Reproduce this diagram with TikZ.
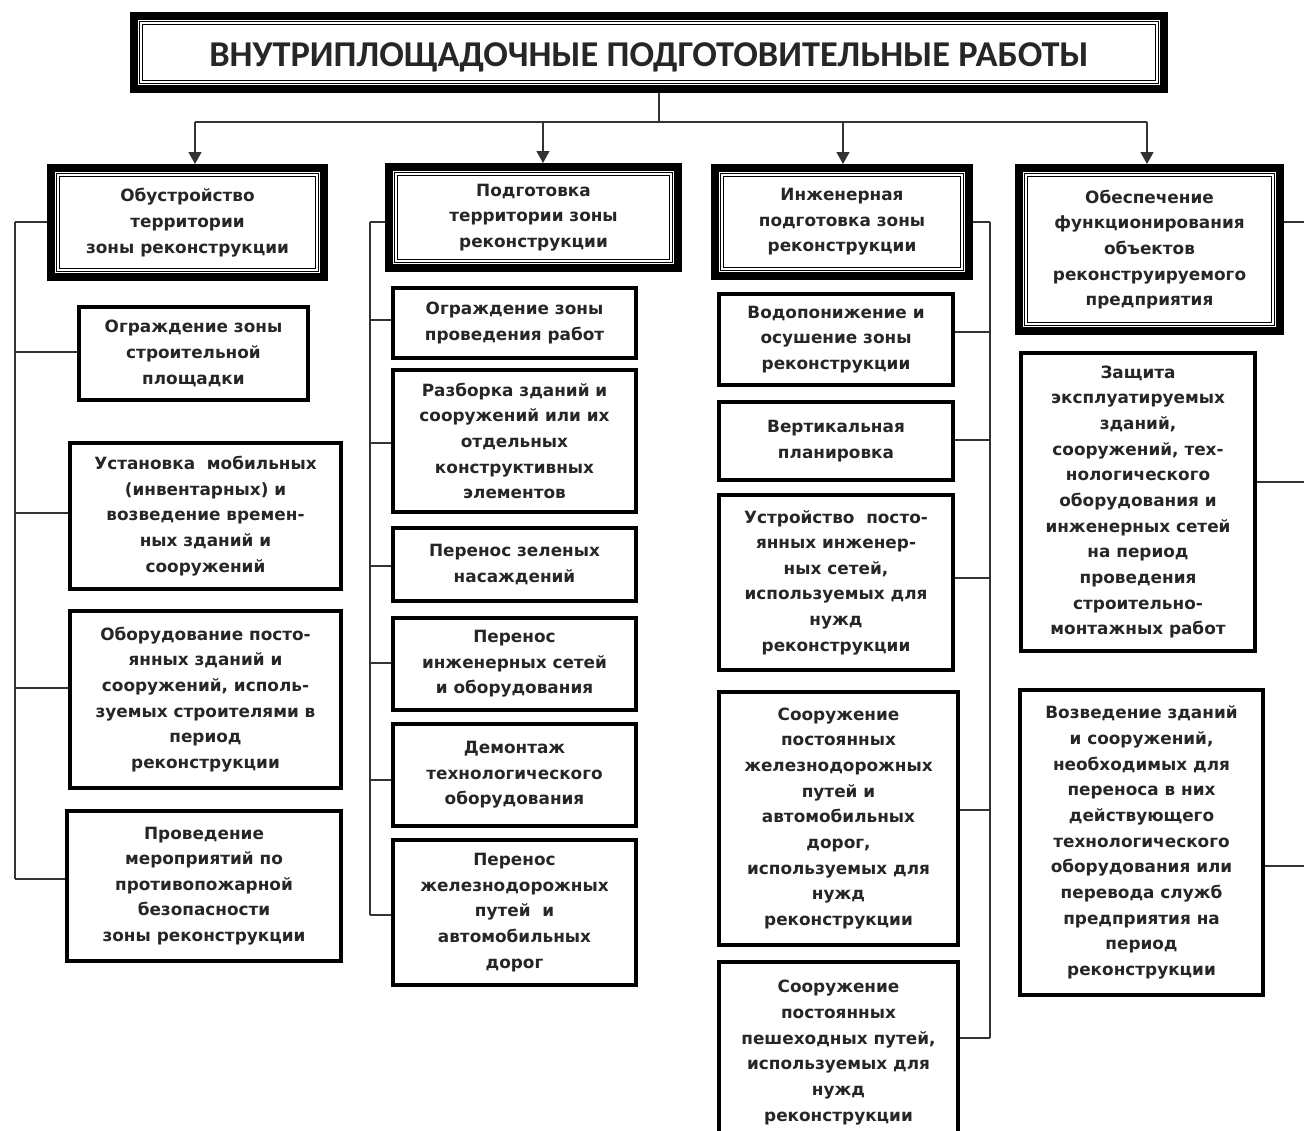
\documentclass[tikz,border=0pt]{standalone}
\usepackage{fontspec}
\setmainfont{DejaVu Sans}
\newfontfamily\titlefont{Carlito}
\usetikzlibrary{arrows.meta, positioning, calc}

\begin{document}
\begin{tikzpicture}[
    x=0.02cm, y=-0.02cm,
    txt/.style={align=center, inner sep=0pt, text=black!85, font=\fontsize{9.6}{14.6}\selectfont\bfseries},
    head/.style={txt, draw, line width=0.16cm},
    itembox/.style={txt, draw, line width=0.08cm},
    link/.style={draw=black!80, line width=0.8pt},
    arrowdown/.style={link, -{Triangle[length=0.24cm, width=0.26cm]}},
    innerframe/.style={line width=0.5pt, double, double distance=1.1pt}
]
    \useasboundingbox (0,0) rectangle (1304,1131);

    \node[head, minimum width=20.6cm, minimum height=1.46cm, text height=19pt, font=\titlefont\bfseries\fontsize{20.7}{25}\selectfont] (title) at (649,52.5) {ВНУТРИПЛОЩАДОЧНЫЕ ПОДГОТОВИТЕЛЬНЫЕ РАБОТЫ};

    % headers
    \node[head, minimum width=5.46cm, minimum height=2.18cm] (h1) at (187.5,222.5) {Обустройство\\территории\\зоны реконструкции};
    \node[head, minimum width=5.78cm, minimum height=2.02cm] (h2) at (533.5,217.5) {Подготовка\\территории зоны\\реконструкции};
    \node[head, minimum width=5.08cm, minimum height=2.16cm] (h3) at (842,222) {Инженерная\\подготовка зоны\\реконструкции};
    \node[head, minimum width=5.22cm, minimum height=3.26cm] (h4) at (1149.5,249.5) {Обеспечение\\функционирования\\объектов\\реконструируемого\\предприятия};

    \foreach \n in {title, h1, h2, h3, h4}
        \draw[innerframe] ($(\n.north west)+(11,11)$) rectangle ($(\n.south east)-(11,11)$);

    % column 1
    \node[itembox, minimum width=4.58cm, minimum height=1.86cm] (c11) at (193.5,353.5) {Ограждение зоны\\строительной\\площадки};
    \node[itembox, minimum width=5.42cm, minimum height=2.92cm] (c12) at (205.5,516) {Установка\ \ мобильных\\(инвентарных) и\\возведение времен-\\ных зданий и\\сооружений};
    \node[itembox, minimum width=5.42cm, minimum height=3.54cm] (c13) at (205.5,699.5) {Оборудование посто-\\янных зданий и\\сооружений, исполь-\\зуемых строителями в\\период\\реконструкции};
    \node[itembox, minimum width=5.48cm, minimum height=3.0cm] (c14) at (204,886) {Проведение\\мероприятий по\\противопожарной\\безопасности\\зоны реконструкции};

    % column 2
    \node[itembox, minimum width=4.86cm, minimum height=1.40cm] (c21) at (514.5,323) {Ограждение зоны\\проведения работ};
    \node[itembox, minimum width=4.86cm, minimum height=2.84cm] (c22) at (514.5,441) {Разборка зданий и\\сооружений или их\\отдельных\\конструктивных\\элементов};
    \node[itembox, minimum width=4.86cm, minimum height=1.46cm] (c23) at (514.5,564.5) {Перенос зеленых\\насаждений};
    \node[itembox, minimum width=4.86cm, minimum height=1.84cm] (c24) at (514.5,664) {Перенос\\инженерных сетей\\и оборудования};
    \node[itembox, minimum width=4.86cm, minimum height=2.04cm] (c25) at (514.5,775) {Демонтаж\\технологического\\оборудования};
    \node[itembox, minimum width=4.86cm, minimum height=2.90cm] (c26) at (514.5,912.5) {Перенос\\железнодорожных\\путей\ \ и\\автомобильных\\дорог};

    % column 3
    \node[itembox, minimum width=4.68cm, minimum height=1.82cm] (c31) at (836,339.5) {Водопонижение и\\осушение зоны\\реконструкции};
    \node[itembox, minimum width=4.68cm, minimum height=1.56cm] (c32) at (836,441) {Вертикальная\\планировка};
    \node[itembox, minimum width=4.68cm, minimum height=3.50cm] (c33) at (836,582.5) {Устройство\ \ посто-\\янных инженер-\\ных сетей,\\используемых для\\нужд\\реконструкции};
    \node[itembox, minimum width=4.78cm, minimum height=5.06cm] (c34) at (838.5,818.5) {Сооружение\\постоянных\\железнодорожных\\путей и\\автомобильных\\дорог,\\используемых для\\нужд\\реконструкции};
    \node[itembox, minimum width=4.78cm, minimum height=3.62cm] (c35) at (838.5,1052.5) {Сооружение\\постоянных\\пешеходных путей,\\используемых для\\нужд\\реконструкции};

    % column 4
    \node[itembox, minimum width=4.68cm, minimum height=5.96cm] (c41) at (1138,502) {Защита\\эксплуатируемых\\зданий,\\сооружений, тех-\\нологического\\оборудования и\\инженерных сетей\\на период\\проведения\\строительно-\\монтажных работ};
    \node[itembox, minimum width=4.86cm, minimum height=6.10cm] (c42) at (1141.5,842.5) {Возведение зданий\\и сооружений,\\необходимых для\\переноса в них\\действующего\\технологического\\оборудования или\\перевода служб\\предприятия на\\период\\реконструкции};

    % title to headers
    \coordinate (tj) at (659,122);
    \coordinate (a1) at (195,122);
    \coordinate (a2) at (543,122);
    \coordinate (a3) at (843,122);
    \coordinate (a4) at (1147,122);
    \draw[link] (title.south -| tj) -- (tj);
    \draw[link] (a1) -- (a4);
    \foreach \i in {1,...,4}
        \draw[arrowdown] (a\i) -- (a\i |- h\i.north);

    % buses
    \foreach \n/\y in {h1/222, c11/352, c12/513, c13/688, c14/879} {
        \coordinate (j-\n) at (15,\y);
        \draw[link] (j-\n) -- (j-\n -| \n.west);
    }
    \draw[link] (j-h1) -- (j-c14);

    \foreach \n/\y in {h2/222, c21/320, c22/443, c23/566, c24/663, c25/780, c26/915} {
        \coordinate (j-\n) at (370,\y);
        \draw[link] (j-\n) -- (j-\n -| \n.west);
    }
    \draw[link] (j-h2) -- (j-c26);

    \foreach \n/\y in {h3/222, c31/332, c32/440, c33/578, c34/810, c35/1038} {
        \coordinate (j-\n) at (990,\y);
        \draw[link] (j-\n -| \n.east) -- (j-\n);
    }
    \draw[link] (j-h3) -- (j-c35);

    \foreach \n/\y in {h4/222, c41/482, c42/866} {
        \coordinate (j-\n) at (1304,\y);
        \draw[link] (j-\n -| \n.east) -- (j-\n);
    }

\end{tikzpicture}
\end{document}
